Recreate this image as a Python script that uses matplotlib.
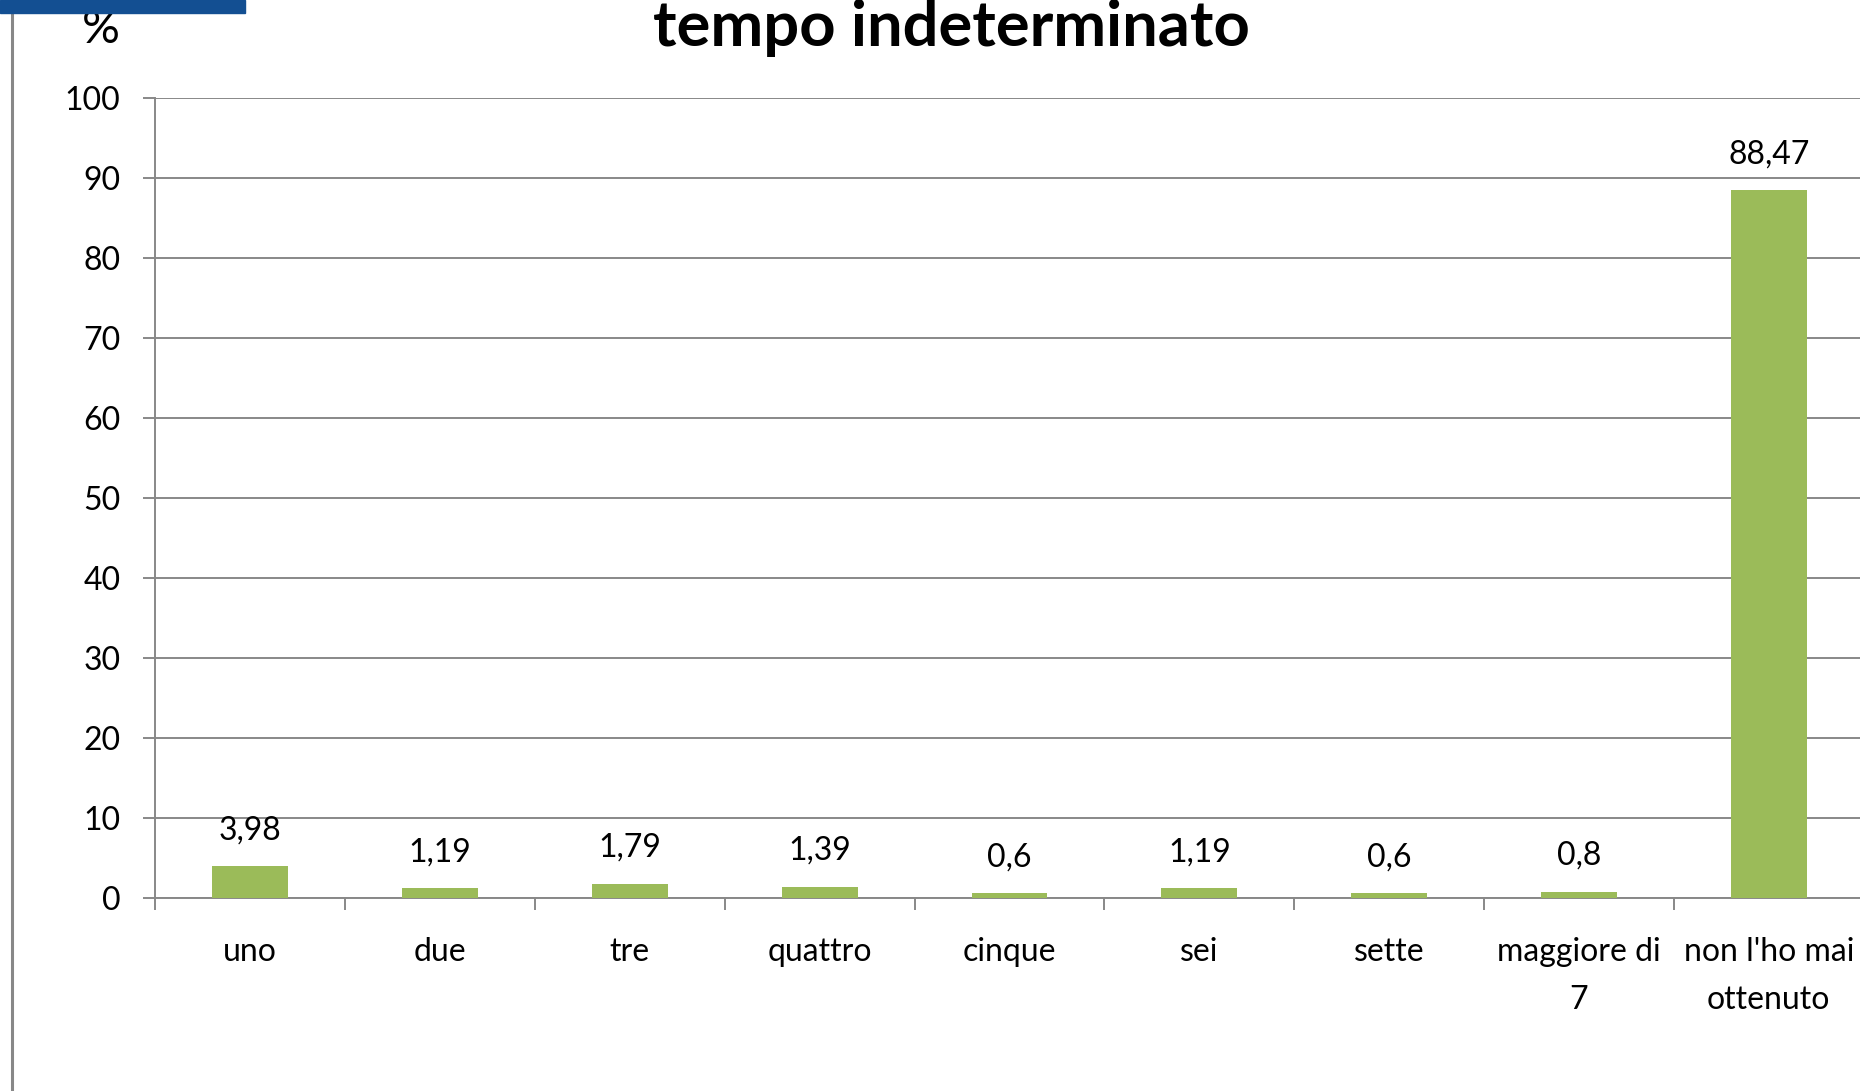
import matplotlib
matplotlib.use("Agg")
import matplotlib.pyplot as plt
from matplotlib.patches import Rectangle
from matplotlib.lines import Line2D

# data
categorie = ["uno", "due", "tre", "quattro", "cinque", "sei", "sette",
             "maggiore di\n7", "non l'ho mai\nottenuto"]
percentuali = [3.98, 1.19, 1.79, 1.39, 0.6, 1.19, 0.6, 0.8, 88.47]
yticks = [0, 10, 20, 30, 40, 50, 60, 70, 80, 90, 100]

W, H = 1860, 1091
GRIGIO = "#888888"
VERDE = "#9BBB59"
BLU = "#134F92"

plt.rcParams["font.family"] = ["Lato", "DejaVu Sans"]

fig = plt.figure(figsize=(W / 100, H / 100), dpi=100)
ax = fig.add_axes([155.4 / W, 193 / H, (1863.6 - 155.4) / W, 800 / H])

x = list(range(len(categorie)))
ax.bar(x, percentuali, width=0.4, color=VERDE, zorder=3)

for i, v in enumerate(percentuali):
    ax.annotate(str(v).replace(".", ","), xy=(i, v), xytext=(0, 19.5),
                textcoords="offset points", ha="center", va="baseline",
                fontsize=23, color="black")

ax.set_xlim(-0.5, len(categorie) - 0.5)
ax.set_ylim(0, 100)
ax.set_yticks(yticks)
ax.yaxis.grid(True, color=GRIGIO, linewidth=1.4, zorder=0)
ax.set_axisbelow(True)

# tick marks at category boundaries, labels in the middle
ax.set_xticks([i - 0.5 for i in range(len(categorie) + 1)])
ax.set_xticklabels([])
ax.set_xticks(x, minor=True)
ax.set_xticklabels(categorie, minor=True, linespacing=1.75)
ax.tick_params(axis="x", which="major", length=8.6, width=1.4, color=GRIGIO)
ax.tick_params(axis="x", which="minor", length=0, pad=28, labelsize=23)
ax.tick_params(axis="y", length=8.6, width=1.4, color=GRIGIO, pad=16.5,
               labelsize=23)

for s in ["top", "right"]:
    ax.spines[s].set_visible(False)
for s in ["left", "bottom"]:
    ax.spines[s].set_color(GRIGIO)
    ax.spines[s].set_linewidth(1.4)

fig.text(951 / W, 1 - 45.7 / H, "tempo indeterminato", ha="center",
         va="baseline", fontsize=45.5, fontweight="bold")
fig.text(120 / W, 1 - 42.7 / H, "%", ha="right", va="baseline", fontsize=34)

# frame remains of the slide
fig.add_artist(Line2D([11.5 / W, 11.5 / W], [0, 1], color=GRIGIO,
                      linewidth=2.2, transform=fig.transFigure))
fig.add_artist(Rectangle((0, 1 - 12.7 / H), 245 / W, 12.7 / H,
                         transform=fig.transFigure, color=BLU, zorder=10))

fig.savefig("out.png", dpi=100)
